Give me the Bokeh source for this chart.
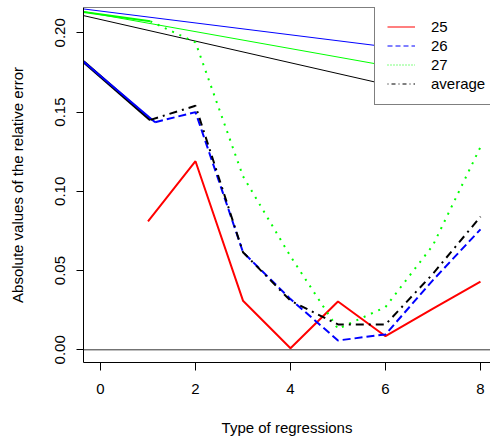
from bokeh.plotting import figure
from bokeh.models import Range1d, FixedTicker, PrintfTickFormatter, Span, Legend, LegendItem
from bokeh.embed import file_html
from bokeh.resources import INLINE

# ---- data ----
x_types = [1, 2, 3, 4, 5, 6, 7, 8]
err_25 = [0.081, 0.119, 0.031, 0.001, 0.0305, 0.0086, 0.026, 0.043]
x_26 = [1.15, 2, 3, 4, 5, 6, 7, 8]
err_26 = [0.1436, 0.150, 0.0616, 0.032, 0.0059, 0.0097, 0.044, 0.076]
x_27 = [1.05, 2, 3, 4, 5, 6, 7, 8]
err_27 = [0.2073, 0.194, 0.1095, 0.059, 0.0132, 0.027, 0.066, 0.128]
x_avg = [1.05, 2, 3, 4, 5, 6, 7, 8]
err_avg = [0.1451, 0.154, 0.0616, 0.031, 0.016, 0.016, 0.048, 0.084]

# solid lead-in segments at the left
lead_x_26 = [-0.36, 1.15]
lead_y_26 = [0.1819, 0.1436]
lead_x_27 = [-0.36, 1.05]
lead_y_27 = [0.2131, 0.2073]
lead_x_avg = [-0.36, 1.05]
lead_y_avg = [0.1819, 0.1451]

# thin solid lines running to the legend
conn_x = [-0.36, 6.07]
conn_y_26 = [0.2151, 0.191]
conn_y_27 = [0.2134, 0.179]
conn_y_avg = [0.2109, 0.167]

x_ticks = [0, 2, 4, 6, 8]
y_ticks = [0.0, 0.05, 0.10, 0.15, 0.20]
labels = ["25", "26", "27", "average"]

FONT = "Liberation Sans"
GREEN = "#00ff00"
NAN = float("nan")

p = figure(width=490, height=443, output_backend="svg", toolbar_location=None,
           x_range=Range1d(-0.358, 8.211), y_range=Range1d(-0.0080, 0.2160),
           min_border_left=83, min_border_right=0, min_border_top=7, min_border_bottom=81)
p.grid.visible = False
p.outline_line_color = None
p.background_fill_color = "white"
p.border_fill_color = "white"

# axes
p.xaxis.ticker = FixedTicker(ticks=x_ticks)
p.yaxis.ticker = FixedTicker(ticks=y_ticks)
p.yaxis.formatter = PrintfTickFormatter(format="%.2f")
p.yaxis.major_label_orientation = "vertical"
for ax in (p.xaxis[0], p.yaxis[0]):
    ax.axis_line_color = "black"
    ax.major_tick_line_color = "black"
    ax.minor_tick_line_color = None
    ax.major_tick_in = 0
    ax.major_label_text_font = FONT
    ax.major_label_text_font_size = "15px"
    ax.major_label_text_color = "black"
    ax.axis_label_text_font = FONT
    ax.axis_label_text_font_size = "15px"
    ax.axis_label_text_font_style = "normal"
    ax.axis_label_text_color = "black"
p.xaxis.major_tick_out = 8
p.yaxis.major_tick_out = 7
p.xaxis.major_label_standoff = 13
p.yaxis.major_label_standoff = 11
p.xaxis.axis_label = "Type of regressions"
p.yaxis.axis_label = "Absolute values of the relative error"
p.xaxis.axis_label_standoff = 22
p.yaxis.axis_label_standoff = 27

# top border and zero line
p.add_layout(Span(location=0.2160, dimension="width", line_color="black", line_width=1))
p.add_layout(Span(location=0.0, dimension="width", line_color="#333333", line_width=1))

# connectors and leads
p.line(conn_x, conn_y_26, line_color="blue", line_width=1)
p.line(conn_x, conn_y_27, line_color=GREEN, line_width=1)
p.line(conn_x, conn_y_avg, line_color="black", line_width=1)
p.line(lead_x_avg, lead_y_avg, line_color="black", line_width=3)
p.line(lead_x_26, lead_y_26, line_color="blue", line_width=2)
p.line(lead_x_27, lead_y_27, line_color=GREEN, line_width=2)

# data series
p.line(x_types, err_25, line_color="red", line_width=2)
p.line(x_26, err_26, line_color="blue", line_width=2, line_dash="8 4")
p.line(x_27, err_27, line_color=GREEN, line_width=2, line_dash="2 6")
p.line(x_avg, err_avg, line_color="black", line_width=2, line_dash="8 5 2 5")

# legend-only renderers (one NaN point so the legend glyph is drawn)
r1 = p.line([NAN], [NAN], line_color="#ff7f7f", line_width=2)
r2 = p.line([NAN], [NAN], line_color="blue", line_width=1, line_dash="5 3")
r3 = p.line([NAN], [NAN], line_color=GREEN, line_width=1, line_dash="1 2")
r4 = p.line([NAN], [NAN], line_color="black", line_width=1, line_dash="1 3 4 3")

legend = Legend(items=[LegendItem(label=labels[0], renderers=[r1]),
                       LegendItem(label=labels[1], renderers=[r2]),
                       LegendItem(label=labels[2], renderers=[r3]),
                       LegendItem(label=labels[3], renderers=[r4])],
                location=(291, 257))
legend.label_text_font = FONT
legend.label_text_font_size = "15px"
legend.label_text_color = "black"
legend.label_height = 17
legend.glyph_height = 17
legend.glyph_width = 28
legend.label_standoff = 16
legend.spacing = 2
legend.padding = 12
legend.margin = 0
legend.border_line_color = "black"
legend.border_line_width = 1
legend.background_fill_color = "white"
legend.background_fill_alpha = 1.0
p.add_layout(legend)

open("out.html", "w").write(file_html(p, INLINE))
